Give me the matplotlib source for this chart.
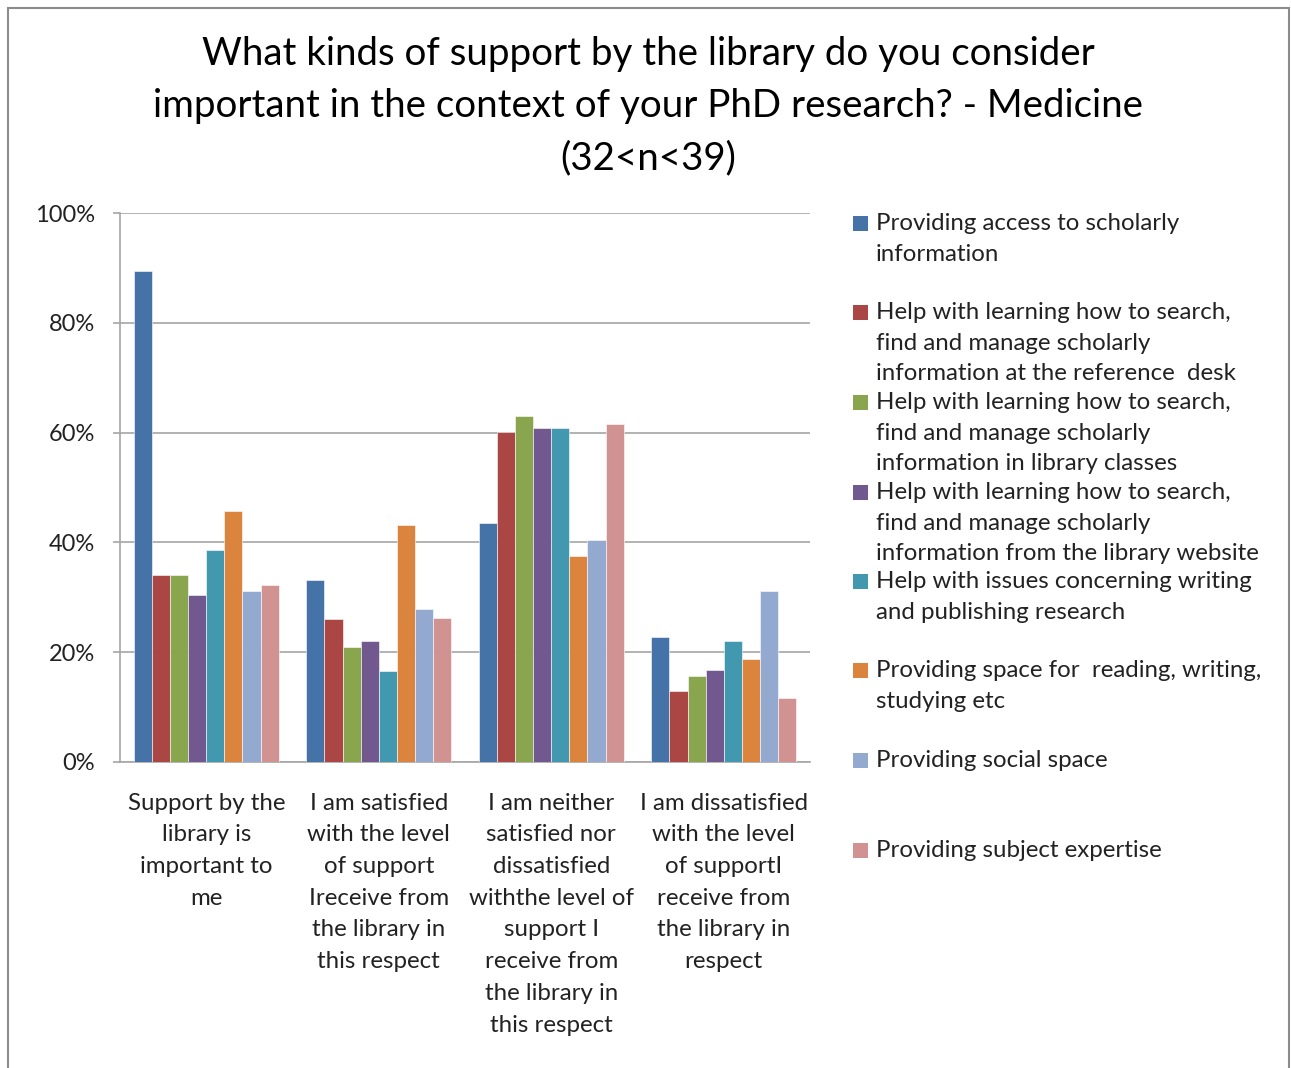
import matplotlib
matplotlib.use("Agg")
import matplotlib.pyplot as plt
from matplotlib.patches import Rectangle
import numpy as np

categories = [
    "Support by the\nlibrary is\nimportant to\nme",
    "I am satisfied\nwith the level\nof support\nIreceive from\nthe library in\nthis respect",
    "I am neither\nsatisfied nor\ndissatisfied\nwiththe level of\nsupport I\nreceive from\nthe library in\nthis respect",
    "I am dissatisfied\nwith the level\nof supportI\nreceive from\nthe library in\nrespect",
]

series_names = [
    "Providing access to scholarly\ninformation",
    "Help with learning how to search,\nfind and manage scholarly\ninformation at the reference  desk",
    "Help with learning how to search,\nfind and manage scholarly\ninformation in library classes",
    "Help with learning how to search,\nfind and manage scholarly\ninformation from the library website",
    "Help with issues concerning writing\nand publishing research",
    "Providing space for  reading, writing,\nstudying etc",
    "Providing social space",
    "Providing subject expertise",
]

access_info      = [89.5, 33.2, 43.5, 22.8]
help_ref_desk    = [34.1, 26.0, 60.2, 12.9]
help_classes     = [34.1, 21.0, 63.1, 15.7]
help_website     = [30.4, 22.1, 60.9, 16.7]
help_writing     = [38.7, 16.6, 60.9, 22.1]
space_reading    = [45.8, 43.1, 37.5, 18.7]
social_space     = [31.1, 27.9, 40.5, 31.1]
subject_expert   = [32.2, 26.3, 61.6, 11.6]

series_values = [access_info, help_ref_desk, help_classes, help_website,
                 help_writing, space_reading, social_space, subject_expert]

colors = ["#4572A7", "#AA4643", "#89A54E", "#71588F",
          "#4198AF", "#DB843D", "#93A9CF", "#D19392"]

yticks = [0, 20, 40, 60, 80, 100]
ytick_labels = ["0%", "20%", "40%", "60%", "80%", "100%"]

FONT = "Lato"
W, H = 1291, 1068
fig = plt.figure(figsize=(W / 100, H / 100), dpi=100)

# outer chart border
fig.patches.append(Rectangle((8 / W, -0.01), (1289 - 8) / W, 1 - 8 / H + 0.01,
                             transform=fig.transFigure, fill=False,
                             edgecolor="#8c8c8c", linewidth=1.5))

ax = fig.add_axes([120 / W, 1 - 762 / H, (810 - 120) / W, (762 - 213) / H])

n = len(series_values)
group_w = 0.84
bw = group_w / n
x = np.arange(len(categories))
for i, (vals, c) in enumerate(zip(series_values, colors)):
    ax.bar(x - group_w / 2 + bw * (i + 0.5), vals, width=bw, color=c,
           edgecolor="white", linewidth=0.4, zorder=3)

ax.set_xlim(-0.5, len(categories) - 0.5)
ax.set_ylim(0, 100)
ax.set_yticks(yticks)
ax.set_yticklabels(ytick_labels, fontsize=17, family=FONT, color="#222222")
ax.yaxis.grid(True, color="#a6a6a6", linewidth=1.2, zorder=0)
ax.set_axisbelow(True)
ax.set_xticks(x)
ax.set_xticklabels(categories, fontsize=17.3, family=FONT, color="#222222",
                   linespacing=1.63, va="top")
ax.tick_params(axis="x", length=0, pad=22)
ax.tick_params(axis="y", length=5, width=1.2, color="#a6a6a6", pad=13)
for s in ["top", "right"]:
    ax.spines[s].set_visible(False)
for s in ["left", "bottom"]:
    ax.spines[s].set_color("#a6a6a6")
    ax.spines[s].set_linewidth(1.2)

# title
fig.text(648 / W, 1 - 106 / H,
         "What kinds of support by the library do you consider\n"
         "important in the context of your PhD research? - Medicine\n(32<n<39)",
         ha="center", va="center", fontsize=27.7, family=FONT, color="black",
         linespacing=1.56)

# legend
legend_centers = [224, 313, 403, 493, 582, 671, 761, 851]
for name, c, yc in zip(series_names, colors, legend_centers):
    fig.patches.append(Rectangle((853 / W, 1 - (yc + 7) / H), 15 / W, 15 / H,
                                 transform=fig.transFigure, facecolor=c,
                                 edgecolor="none"))
    fig.text(876 / W, 1 - (yc - 11) / H, name, ha="left", va="top",
             fontsize=17.3, family=FONT, color="#222222", linespacing=1.56)

fig.savefig("out.png", dpi=100)
